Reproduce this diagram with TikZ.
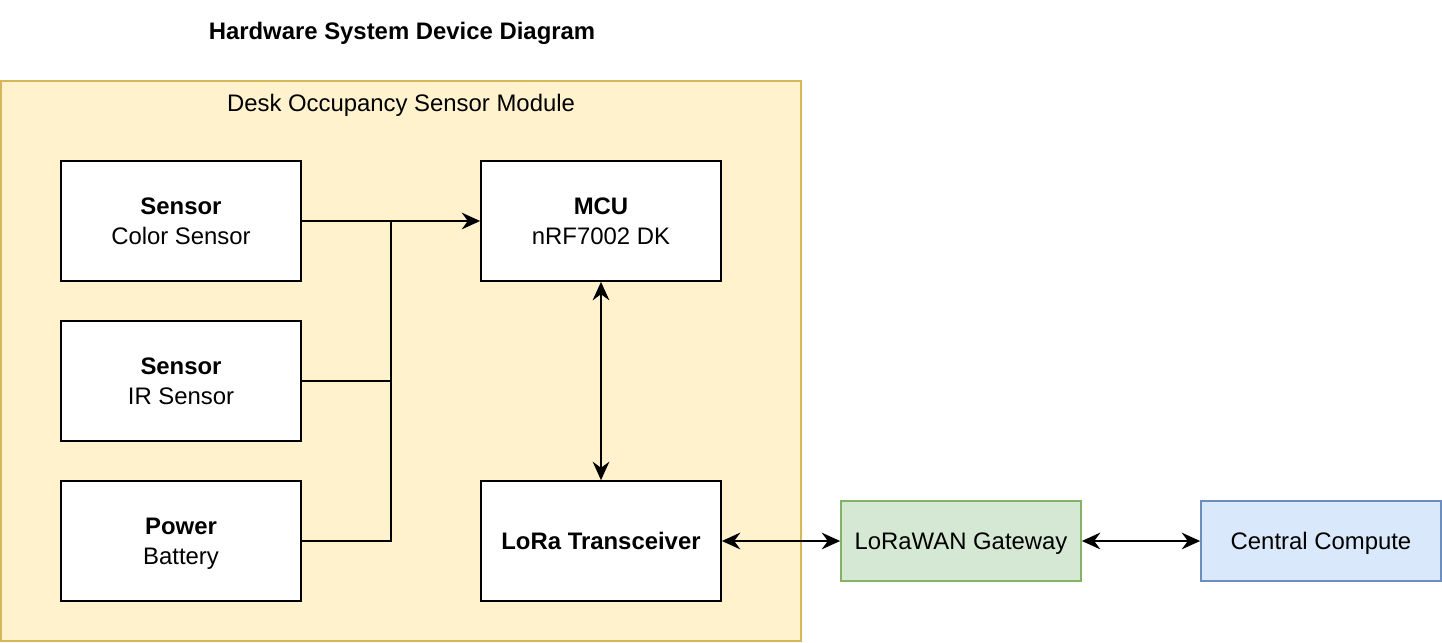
\documentclass[tikz,border=0pt]{standalone}
\usepackage{fontspec}
\setmainfont{Liberation Sans}
\usetikzlibrary{arrows.meta}
\definecolor{moduleFill}{HTML}{FFF2CC}
\definecolor{moduleLine}{HTML}{D6B656}
\definecolor{gatewayFill}{HTML}{D5E8D4}
\definecolor{gatewayLine}{HTML}{82B366}
\definecolor{computeFill}{HTML}{DAE8FC}
\definecolor{computeLine}{HTML}{6C8EBF}
\begin{document}
\begin{tikzpicture}[x=0.02cm, y=-0.02cm,
  every node/.style={font=\fontsize{13.6}{17}\selectfont},
  block/.style={draw=black, fill=white, line width=1pt, minimum width=4.8cm, minimum height=2.4cm, align=center, inner sep=0pt, text depth=0pt},
  netbox/.style={line width=1pt, minimum width=4.8cm, minimum height=1.6cm, align=center, inner sep=0pt, text height=9.8pt, text depth=0pt},
  link/.style={line width=1.1pt, -{Stealth[length=10.5pt, width=9.5pt, inset=3.5pt]}},
  bilink/.style={line width=1.1pt, {Stealth[length=10.5pt, width=9.5pt, inset=3.5pt]}-{Stealth[length=10.5pt, width=9.5pt, inset=3.5pt]}}]
\useasboundingbox (0,0) rectangle (1442,642);

% Title
\node[anchor=base, font=\fontsize{13.6}{17}\selectfont\bfseries] (title) at (402,40) {Hardware System Device Diagram};

% Module container
\draw[fill=moduleFill, draw=moduleLine, line width=1pt] (1,81) rectangle (801,641);
\node[anchor=base] (modlabel) at (401,112) {Desk Occupancy Sensor Module};

% Blocks inside the module
\node[block] (color) at (181,221) {\textbf{Sensor}\\Color Sensor};
\node[block] (ir) at (181,381) {\textbf{Sensor}\\IR Sensor};
\node[block] (power) at (181,541) {\textbf{Power}\\Battery};
\node[block] (mcu) at (601,221) {\textbf{MCU}\\nRF7002 DK};
\node[block] (lora) at (601,541) {\textbf{LoRa Transceiver}};

% Outside the module
\node[netbox, draw=gatewayLine, fill=gatewayFill] (gateway) at (961,541) {LoRaWAN Gateway};
\node[netbox, draw=computeLine, fill=computeFill] (compute) at (1321,541) {Central Compute};

% Connections
\coordinate (bus) at (391,221);
\draw[link] (color.east) -- (mcu.west);
\draw[line width=1.1pt] (ir.east) -| (bus);
\draw[line width=1.1pt] (power.east) -| (bus);
\draw[bilink] (mcu.south) -- (lora.north);
\draw[bilink] (lora.east) -- (gateway.west);
\draw[bilink] (gateway.east) -- (compute.west);
\end{tikzpicture}
\end{document}
